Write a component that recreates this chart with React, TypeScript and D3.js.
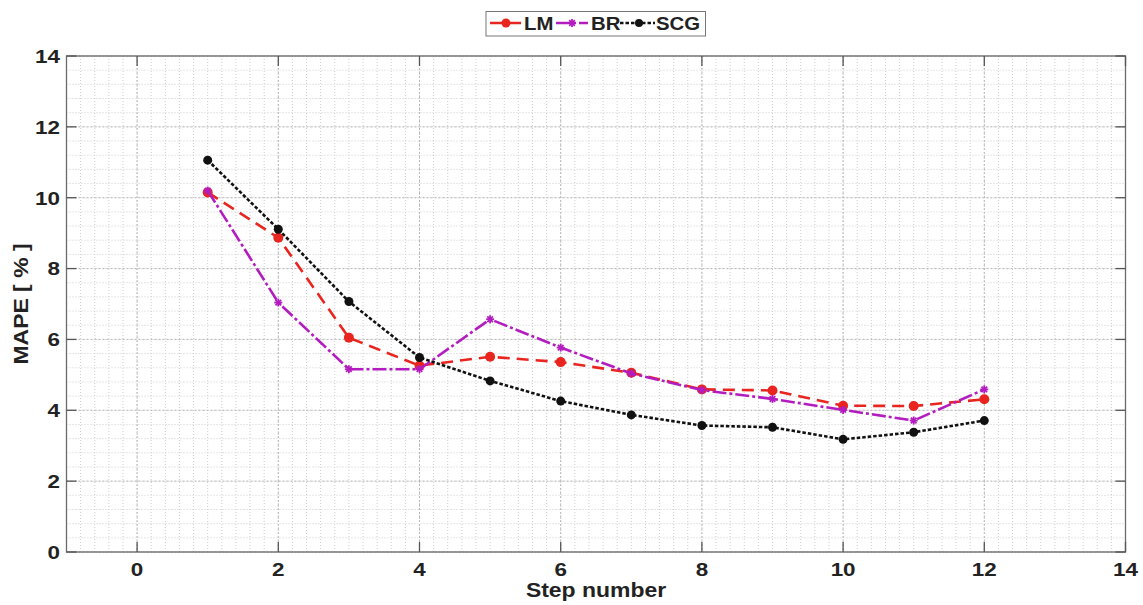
import React from "react";
import * as d3 from "d3";

const steps = [1, 2, 3, 4, 5, 6, 7, 8, 9, 10, 11, 12];
const lmValues = [10.15, 8.87, 6.05, 5.26, 5.51, 5.36, 5.06, 4.59, 4.56, 4.13, 4.12, 4.31];
const brValues = [10.2, 7.04, 5.16, 5.16, 6.57, 5.77, 5.04, 4.57, 4.32, 4.01, 3.71, 4.59];
const scgValues = [11.06, 9.11, 7.07, 5.49, 4.83, 4.26, 3.87, 3.57, 3.52, 3.18, 3.38, 3.71];
const xTicks = [0, 2, 4, 6, 8, 10, 12, 14];
const yTicks = [0, 2, 4, 6, 8, 10, 12, 14];
const seriesNames = ["LM", "BR", "SCG"];

const W = 1143;
const H = 605;
const M = { left: 66.5, right: 1125.5, top: 56, bottom: 552 };

const FONT = "'Liberation Sans', Arial, Helvetica, sans-serif";

function SText(props: {
  x: number;
  y: number;
  sx: number;
  size: number;
  anchor?: string;
  rotate?: number;
  children: React.ReactNode;
}) {
  const { x, y, sx, size, anchor, rotate, children } = props;
  const tr = `translate(${x},${y})${rotate ? ` rotate(${rotate})` : ""} scale(${sx},1)`;
  return (
    <text
      transform={tr}
      x={0}
      y={0}
      textAnchor={anchor || "start"}
      fontFamily={FONT}
      fontWeight="bold"
      fontSize={size}
      fill="#222"
    >
      {children}
    </text>
  );
}

export default function App() {
  const x = d3.scaleLinear().domain([-1, 14]).range([M.left, M.right]);
  const y = d3.scaleLinear().domain([0, 14]).range([M.bottom, M.top]);

  const xMinor = d3.range(-1, 14.001, 0.2).map((v) => +v.toFixed(2));
  const yMinor = d3.range(0, 14.001, 0.4).map((v) => +v.toFixed(2));

  const line = d3
    .line<number>()
    .x((_, i) => x(steps[i]))
    .y((d) => y(d));

  const series = [
    { name: seriesNames[0], values: lmValues, color: "#e8261f", dash: "12,7", marker: "circle", r: 5 },
    { name: seriesNames[1], values: brValues, color: "#b31cbf", dash: "14,3,3,3", marker: "star", r: 4 },
    { name: seriesNames[2], values: scgValues, color: "#111111", dash: "3.5,2", marker: "circle", r: 4.5 },
  ];

  const star = (cx: number, cy: number, r: number, color: string, key: string) => (
    <g key={key} stroke={color} strokeWidth={1.8}>
      <line x1={cx - r} y1={cy} x2={cx + r} y2={cy} />
      <line x1={cx} y1={cy - r} x2={cx} y2={cy + r} />
      <line x1={cx - r * 0.7} y1={cy - r * 0.7} x2={cx + r * 0.7} y2={cy + r * 0.7} />
      <line x1={cx - r * 0.7} y1={cy + r * 0.7} x2={cx + r * 0.7} y2={cy - r * 0.7} />
    </g>
  );

  const legendItems = [
    { lx1: 490, lx2: 521, mx: 506, tx: 524 },
    { lx1: 556, lx2: 588, mx: 572, tx: 591 },
    { lx1: 620, lx2: 655, mx: 639, tx: 656 },
  ];

  return (
    <svg width={W} height={H} style={{ display: "block", position: "absolute", left: 0, top: 0 }}>
      <rect x={0} y={0} width={W} height={H} fill="#ffffff" />
      {/* minor grid */}
      <g stroke="#cdcdcd" strokeWidth={1} strokeDasharray="1,2">
        {xMinor.map((v) => (
          <line key={"xm" + v} x1={x(v)} x2={x(v)} y1={M.top} y2={M.bottom} />
        ))}
        {yMinor.map((v) => (
          <line key={"ym" + v} x1={M.left} x2={M.right} y1={y(v)} y2={y(v)} />
        ))}
      </g>
      {/* major grid */}
      <g stroke="#b8b8b8" strokeWidth={1} strokeDasharray="2,2">
        {xTicks.map((v) => (
          <line key={"xg" + v} x1={x(v)} x2={x(v)} y1={M.top} y2={M.bottom} />
        ))}
        {yTicks.map((v) => (
          <line key={"yg" + v} x1={M.left} x2={M.right} y1={y(v)} y2={y(v)} />
        ))}
      </g>
      {/* box */}
      <rect x={M.left} y={M.top} width={M.right - M.left} height={M.bottom - M.top} fill="none" stroke="#6a6a6a" strokeWidth={1.3} />
      {/* ticks */}
      <g stroke="#555" strokeWidth={1.3}>
        {xTicks.map((v) => (
          <g key={"xt" + v}>
            <line x1={x(v)} x2={x(v)} y1={M.bottom} y2={M.bottom - 10} />
            <line x1={x(v)} x2={x(v)} y1={M.top} y2={M.top + 10} />
          </g>
        ))}
        {yTicks.map((v) => (
          <g key={"yt" + v}>
            <line x1={M.left} x2={M.left + 10} y1={y(v)} y2={y(v)} />
            <line x1={M.right} x2={M.right - 10} y1={y(v)} y2={y(v)} />
          </g>
        ))}
      </g>
      {/* tick labels */}
      {xTicks.map((v) => (
        <SText key={"xl" + v} x={x(v)} y={575.5} sx={1.18} size={19} anchor="middle">
          {v}
        </SText>
      ))}
      {yTicks.map((v) => (
        <SText key={"yl" + v} x={60} y={y(v) + 6.8} sx={1.18} size={19} anchor="end">
          {v}
        </SText>
      ))}
      {/* axis labels */}
      <SText x={(M.left + M.right) / 2} y={597} sx={1.12} size={20.5} anchor="middle">
        Step number
      </SText>
      <SText x={28} y={(M.top + M.bottom) / 2} sx={1.12} size={20.5} anchor="middle" rotate={-90}>
        MAPE [ % ]
      </SText>
      {/* series */}
      {series.map((s) => (
        <g key={s.name}>
          <path d={line(s.values) || ""} fill="none" stroke={s.color} strokeWidth={2.6} strokeDasharray={s.dash} />
          {s.values.map((v, i) =>
            s.marker === "circle" ? (
              <circle key={i} cx={x(steps[i])} cy={y(v)} r={s.r} fill={s.color} />
            ) : (
              star(x(steps[i]), y(v), s.r, s.color, s.name + i)
            )
          )}
        </g>
      ))}
      {/* legend */}
      <rect x={486} y={11.5} width={219.5} height={24.5} fill="#fff" stroke="#777" strokeWidth={1} />
      {series.map((s, i) => {
        const it = legendItems[i];
        return (
          <g key={"lg" + s.name}>
            <line x1={it.lx1} x2={it.lx2} y1={23} y2={23} stroke={s.color} strokeWidth={2.6} strokeDasharray={s.dash} />
            {s.marker === "circle" ? (
              <circle cx={it.mx} cy={23} r={s.r - 0.5} fill={s.color} />
            ) : (
              star(it.mx, 23, s.r, s.color, "ls" + i)
            )}
            <SText x={it.tx} y={29.5} sx={1.1} size={18.5}>
              {s.name}
            </SText>
          </g>
        );
      })}
    </svg>
  );
}
